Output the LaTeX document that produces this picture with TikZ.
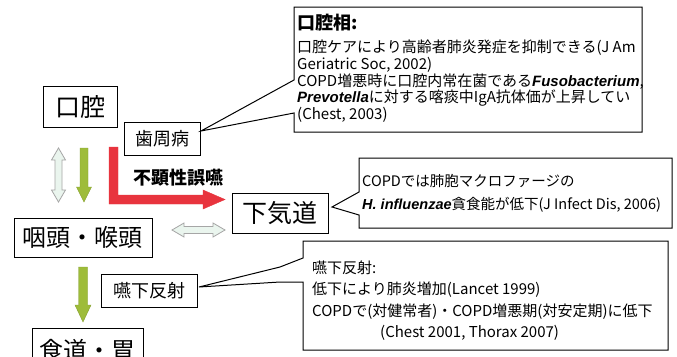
\documentclass[tikz,border=0pt]{standalone}
\usepackage{fontspec}
\setmainfont{Noto Sans CJK JP}
\newfontfamily\lsans{Liberation Sans}
\definecolor{grn}{RGB}{158,188,58}
\definecolor{redarr}{RGB}{232,52,62}
\definecolor{pale}{RGB}{234,245,238}
\newcommand{\spi}[1]{{\lsans\bfseries\itshape #1}}
\begin{document}
\begin{tikzpicture}[x=1pt,y=-1pt,
  box/.style={draw=black, line width=1pt, fill=white, inner sep=0pt, align=center},
  bigbox/.style={box, font=\fontsize{25}{25}\selectfont},
  smallbox/.style={box, font=\fontsize{18}{18}\selectfont},
  callout/.style={draw=black, line width=1pt, fill=white, line join=miter},
  txt/.style={anchor=west, inner sep=0pt, font=\fontsize{15}{15}\selectfont},
  grnarrow/.style={fill=grn, draw=grn!85!black, line width=0.4pt},
  palearrow/.style={fill=pale, draw=gray!70, line width=0.8pt},
  redarrow/.style={fill=redarr, draw=redarr, line width=0.4pt}]
\clip (0,0) rectangle (677,356);
\fill[white] (0,0) rectangle (677,356);

% main boxes
\node[bigbox, minimum width=74pt, minimum height=41pt] (koukuu) at (80,106.5) {口腔};
\node[smallbox, minimum width=76pt, minimum height=33pt] (shishu) at (162,138.5) {歯周病};
\node[bigbox, minimum width=96pt, minimum height=40pt] (kakido) at (280,213) {下気道};
\node[bigbox, font=\fontsize{24}{24}\selectfont, minimum width=138pt, minimum height=39pt] (intou) at (83,237.5) {咽頭・喉頭};
\node[smallbox, minimum width=96pt, minimum height=33pt] (enge) at (149,290.5) {嚥下反射};
\node[bigbox, font=\fontsize{24}{24}\selectfont, minimum width=111pt, minimum height=44pt] (shokudo) at (87.5,350) {食道・胃};

% callout tips
\coordinate (tipA) at (201,131);
\coordinate (tipB) at (332,207);
\coordinate (tipC) at (199,287);

% callouts
\draw[callout] (294,7) -- (642,7) -- (642,132) -- (294,132) -- (294,113) -- (tipA) -- (294,80) -- cycle;
\draw[callout] (359,158) -- (672,158) -- (672,228) -- (359,228) -- (359,215) -- (tipB) -- (359,192) -- cycle;
\draw[callout] (303,241) -- (668,241) -- (668,350) -- (303,350) -- (303,282) -- (280,282) -- (tipC) -- (280,267) -- (303,258) -- cycle;

% top callout text
\node[txt, font=\fontsize{18}{18}\selectfont\bfseries] (t1) at (297,23) {口腔相:};
\node[txt] (t2) at (297,48) {口腔ケアにより高齢者肺炎発症を抑制できる(J Am};
\node[txt] (t3) at (297,65) {Geriatric Soc, 2002)};
\node[txt] (t4) at (297,82) {COPD増悪時に口腔内常在菌である\spi{Fusobacterium},};
\node[txt] (t5) at (297,98.5) {\spi{Prevotella}に対する喀痰中IgA抗体価が上昇してい};
\node[txt] (t6) at (297,115) {(Chest, 2003)};

% middle callout text
\node[txt, font=\fontsize{14.5}{14.5}\selectfont] (m1) at (362,181) {COPDでは肺胞マクロファージの};
\node[txt, font=\fontsize{14.5}{14.5}\selectfont] (m2) at (362,205) {\spi{H. influenzae}貪食能が低下(J Infect Dis, 2006)};

% bottom callout text
\node[txt] (b1) at (312,268) {嚥下反射:};
\node[txt] (b2) at (312,290) {低下により肺炎増加(Lancet 1999)};
\node[txt] (b3) at (312,312) {COPDで(対健常者)・COPD増悪期(対安定期)に低下};
\node[txt] (b4) at (380,333) {(Chest 2001, Thorax 2007)};

% label
\node[anchor=west, inner sep=0pt, font=\fontsize{18}{18}\selectfont\bfseries] (fuken) at (133,178) {不顕性誤嚥};

% arrows
\draw[palearrow] (58.5,148) -- (65.5,160) -- (62,160) -- (62,190) -- (65.5,190) -- (58.5,202) -- (51.5,190) -- (55,190) -- (55,160) -- (51.5,160) -- cycle;
\draw[grnarrow] (80,148) -- (88,148) -- (88,187) -- (91.5,187) -- (84,202) -- (76.5,187) -- (80,187) -- cycle;
\draw[redarrow] (109,147) -- (118,147) -- (118,195) -- (203,195) -- (203,190) -- (225,199.5) -- (203,209) -- (203,204) -- (109,204) -- cycle;
\draw[palearrow] (172,230) -- (184,223) -- (184,226.5) -- (213,226.5) -- (213,223) -- (225,230) -- (213,237) -- (213,233.5) -- (184,233.5) -- (184,237) -- cycle;
\draw[grnarrow] (78.5,267) -- (87.5,267) -- (87.5,305) -- (91,305) -- (83,322) -- (75,305) -- (78.5,305) -- cycle;
\end{tikzpicture}
\end{document}
